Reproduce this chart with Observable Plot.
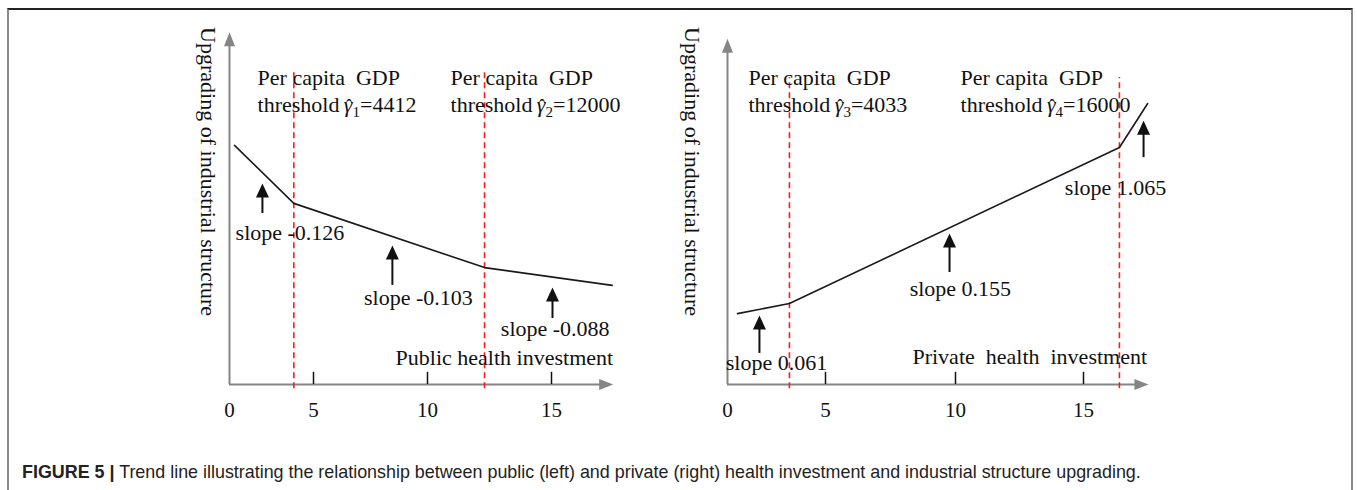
<!DOCTYPE html>
<html>
<head>
<meta charset="utf-8">
<script src="https://cdn.jsdelivr.net/npm/d3@7"></script>
<script src="https://cdn.jsdelivr.net/npm/@observablehq/plot@0.6"></script>
<style>
  html, body { margin: 0; padding: 0; background: #fff; width: 1357px; height: 490px; overflow: hidden; }
  #frame { position: absolute; left: 7px; top: 8px; width: 1346px; height: 520px;
           border-top: 2px solid #222; border-left: 2px solid #8a8a8a; border-right: 2px solid #8a8a8a; box-sizing: border-box; }
  #left { position: absolute; left: 0; top: 0; }
  #right { position: absolute; left: 670px; top: 0; }
  #caption { position: absolute; left: 22px; top: 461px; font-family: "Liberation Sans", Arial, sans-serif;
             font-size: 17.9px; color: #222; white-space: nowrap; line-height: 22px; }
  #caption b { font-weight: bold; }
</style>
</head>
<body>
<div id="frame"></div>
<div id="left"></div>
<div id="right"></div>
<div id="caption"><b>FIGURE 5 |</b> Trend line illustrating the relationship between public (left) and private (right) health investment and industrial structure upgrading.</div>
<script>
// ---------- data ----------
const tickValues = [0, 5, 10, 15];
const tickMarks = [5, 10, 15];

// public (left) panel
const publicX = [0.3, 3.83, 12.3, 17.46];
const publicY = [68.5, 51.9, 33.5, 28.4];
const publicThresholds = [3.83, 12.3];
const publicGammaIndex = ["1", "2"];
const publicGdpValues = ["4412", "12000"];
const publicSlopes = ["slope -0.126", "slope -0.103", "slope -0.088"];
const publicXLabel = "Public health investment";

// private (right) panel
const privateX = [0.51, 3.16, 16.4, 17.5];
const privateY = [20.3, 23.2, 67.9, 80.5];
const privateThresholds = [3.16, 16.4];
const privateGammaIndex = ["3", "4"];
const privateGdpValues = ["4033", "16000"];
const privateSlopes = ["slope 0.061", "slope 0.155", "slope 1.065"];
const privateXLabel = "Private  health  investment";

const yLabel = "Upgrading of industrial structure";
const gdpLabel = "Per capita  GDP";

// ---------- helpers ----------
const upTip = (w, h) => ({ draw(ctx) { ctx.moveTo(0, 0); ctx.lineTo(w / 2, h); ctx.lineTo(-w / 2, h); ctx.closePath(); } });
const rightTip = (w, h) => ({ draw(ctx) { ctx.moveTo(0, 0); ctx.lineTo(-h, -w / 2); ctx.lineTo(-h, w / 2); ctx.closePath(); } });
const grayUp = upTip(11, 14), grayRight = rightTip(11, 14), blackUp = upTip(13, 14);

const FONT = "Liberation Serif, Times New Roman, serif";
const INK = "#111";
const FS = 22;

function panel(cfg) {
  const pts = cfg.xs.map((x, i) => ({ x, y: cfg.ys[i] }));
  const arrows = cfg.slopes.map((s, i) => ({ label: s, ...cfg.arrowPos[i] }));
  const thr = cfg.thresholds.map((t, i) => ({ t, gx: cfg.gdpX[i], g: cfg.gamma[i], v: cfg.values[i] }));
  const svg = Plot.plot({
    width: cfg.width, height: 430, margin: 0,
    x: { type: "linear", domain: [0, 5, 10, 15, 18], range: cfg.xRange, axis: null },
    y: { domain: [0, 100], range: [384, 35], axis: null },
    style: { fontFamily: FONT, background: "transparent", overflow: "visible" },
    marks: [
      // axes
      Plot.ruleX([0], { y1: 0, y2: cfg.yTop - 3.5, stroke: "#858585", strokeWidth: 2 }),
      Plot.dot([0], { x: 0, y: cfg.yTop, symbol: grayUp, fill: "#858585", stroke: null }),
      Plot.ruleY([0], { x1: 0, x2: cfg.xEnd - 0.4, stroke: "#858585", strokeWidth: 2 }),
      Plot.dot([0], { x: cfg.xEnd, y: 0, symbol: grayRight, fill: "#858585", stroke: null }),
      Plot.ruleX(tickMarks, { y1: 0, y2: 3.5, stroke: INK, strokeWidth: 1.5 }),
      Plot.text(tickValues, { x: d => d, y: -7.4, text: d => String(d), fontSize: 21, fill: INK }),
      // thresholds
      Plot.ruleX(thr, { x: "t", y1: -1.2, y2: cfg.ruleTop, stroke: "#ff1a1a", strokeWidth: 1.6, strokeDasharray: "6,4" }),
      // trend line
      Plot.line(pts, { x: "x", y: "y", stroke: "#1a1a1a", strokeWidth: 1.6 }),
      // threshold labels
      Plot.text(thr, { x: "gx", y: 87.8, text: () => gdpLabel, textAnchor: "start", fontSize: FS, fill: INK }),
      Plot.text(thr, { x: "gx", y: 80.0, text: d => `threshold|${d.g}|${d.v}`, textAnchor: "start", fontSize: FS, fill: INK }),
      // slope arrows
      Plot.ruleX(arrows, { x: "ax", y1: "tail", y2: d => d.tip - 3.5, stroke: INK, strokeWidth: 2 }),
      Plot.dot(arrows, { x: "ax", y: "tip", symbol: blackUp, fill: INK, stroke: null }),
      Plot.text(arrows, { x: "lx", y: "ly", text: "label", fontSize: FS, fill: INK }),
      // axis titles
      Plot.text([cfg.xLabel], { x: cfg.xLabelPos[0], y: cfg.xLabelPos[1], text: d => d, fontSize: FS, fill: INK }),
      Plot.text([yLabel], { x: cfg.yLabelX, y: 61, text: d => d, rotate: 90, fontSize: FS, fill: INK })
    ]
  });
  // rebuild threshold labels with italic hatted gamma and subscript index
  d3.select(svg).selectAll("text").each(function () {
    const t = d3.select(this);
    const s = t.text();
    if (!s.startsWith("threshold|")) return;
    const [, g, v] = s.split("|");
    t.text(null);
    t.append("tspan").text("threshold\u2009");
    t.append("tspan").attr("font-style", "italic").text("\u03B3");
    t.append("tspan").attr("dx", -6.5).attr("dy", 0).attr("font-size", 18).text("\u02C6");
    t.append("tspan").attr("font-size", 15).attr("dx", 0.5).attr("dy", 5).text(g);
    t.append("tspan").attr("dy", -5).text("=" + v);
  });
  return svg;
}

document.getElementById("left").append(panel({
  width: 660, xRange: [229, 313, 427, 551, 625],
  xs: publicX, ys: publicY, thresholds: publicThresholds, gamma: publicGammaIndex, values: publicGdpValues,
  slopes: publicSlopes, xLabel: publicXLabel,
  yTop: 100.9, xEnd: 17.5, ruleTop: 90.5,
  gdpX: [1.67, 10.93],
  arrowPos: [
    { ax: 1.96, tip: 57.6, tail: 49.0, lx: 3.6, ly: 43.3 },
    { ax: 8.46, tip: 39.8, tail: 28.4, lx: 9.6, ly: 24.9 },
    { ax: 15.04, tip: 27.8, tail: 18.9, lx: 15.15, ly: 16.0 }
  ],
  xLabelPos: [13.1, 7.7], yLabelX: -1.3
}));

document.getElementById("right").append(panel({
  width: 687, xRange: [57, 155, 285, 413, 490],
  xs: privateX, ys: privateY, thresholds: privateThresholds, gamma: privateGammaIndex, values: privateGdpValues,
  slopes: privateSlopes, xLabel: privateXLabel,
  yTop: 99.1, xEnd: 17.53, ruleTop: 88,
  gdpX: [1.07, 10.2],
  arrowPos: [
    { ax: 1.63, tip: 19.8, tail: 8.9, lx: 2.5, ly: 6.3 },
    { ax: 9.77, tip: 43.3, tail: 32.1, lx: 10.19, ly: 27.5 },
    { ax: 17.34, tip: 75.6, tail: 65.0, lx: 16.25, ly: 56.2 }
  ],
  xLabelPos: [12.9, 8.0], yLabelX: -1.8
}));
</script>
</body>
</html>
